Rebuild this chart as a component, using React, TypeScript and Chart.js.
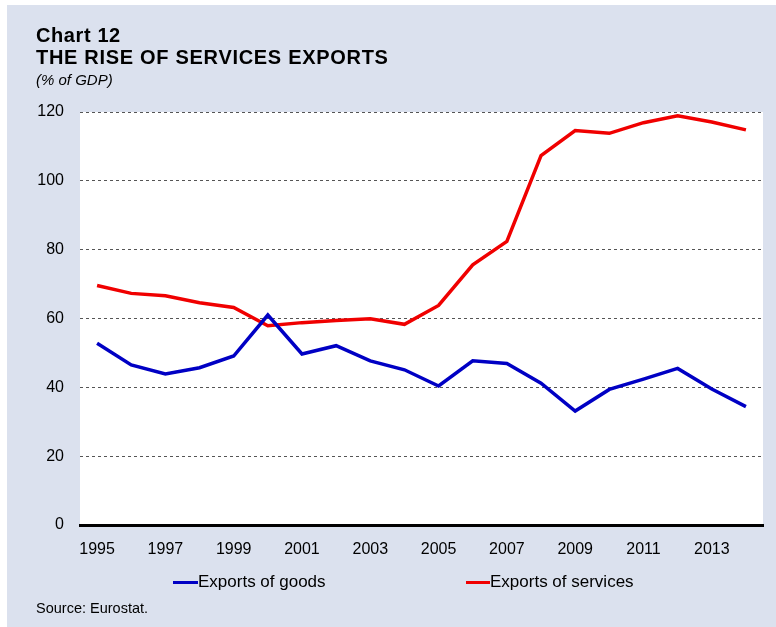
import React, { useEffect, useRef } from "react";
import { Chart, registerables } from "chart.js";

Chart.register(...registerables);

const years = [
  "1995", "1996", "1997", "1998", "1999", "2000", "2001", "2002", "2003", "2004",
  "2005", "2006", "2007", "2008", "2009", "2010", "2011", "2012", "2013", "2014",
];
const exportsOfGoods = [
  52.8, 46.5, 43.9, 45.7, 49.1, 61.0, 49.7, 52.1, 47.7, 45.1,
  40.4, 47.7, 46.9, 41.2, 33.1, 39.4, 42.4, 45.5, 39.5, 34.4,
];
const exportsOfServices = [
  69.6, 67.3, 66.6, 64.6, 63.2, 57.9, 58.8, 59.4, 59.9, 58.3,
  63.8, 75.6, 82.4, 107.3, 114.6, 113.8, 116.9, 118.9, 117.1, 114.8,
];
const yMin = 0;
const yMax = 120;
const yStep = 20;

const BLUE = "#0000c4";
const RED = "#f00000";
const BG = "#dbe1ee";
const FONT = "'Liberation Sans', Arial, sans-serif";

const plotBg = {
  id: "plotBg",
  beforeDraw(chart: any) {
    const { ctx, chartArea } = chart;
    ctx.save();
    ctx.fillStyle = "#ffffff";
    ctx.fillRect(chartArea.left, chartArea.top, chartArea.right - chartArea.left, chartArea.bottom - chartArea.top);
    ctx.restore();
  },
};

export default function App() {
  const ref = useRef<HTMLCanvasElement | null>(null);

  useEffect(() => {
    if (!ref.current) return;
    const chart = new Chart(ref.current, {
      type: "line",
      data: {
        labels: years,
        datasets: [
          {
            label: "Exports of goods",
            data: exportsOfGoods,
            borderColor: BLUE,
            backgroundColor: BLUE,
            borderWidth: 3.5,
            pointRadius: 0,
            tension: 0,
          },
          {
            label: "Exports of services",
            data: exportsOfServices,
            borderColor: RED,
            backgroundColor: RED,
            borderWidth: 3.5,
            pointRadius: 0,
            tension: 0,
          },
        ],
      },
      plugins: [plotBg],
      options: {
        animation: false,
        responsive: false,
        maintainAspectRatio: false,
        layout: { padding: { left: 0, top: 112, right: 13, bottom: 62 } },
        plugins: {
          legend: { display: false },
          tooltip: { enabled: false },
          title: { display: false },
        },
        scales: {
          x: {
            offset: true,
            grid: { display: false, drawTicks: false },
            border: { display: true, color: "#000000", width: 3 },
            ticks: {
              autoSkip: false,
              maxRotation: 0,
              padding: 15,
              color: "#000000",
              font: { family: FONT, size: 16 },
              callback: (_v: any, i: number) => (i % 2 === 0 ? years[i] : ""),
            },
            afterFit: (s: any) => {
              s.height = 40;
            },
          },
          y: {
            min: yMin,
            max: yMax,
            ticks: {
              stepSize: yStep,
              padding: 16,
              color: "#000000",
              font: { family: FONT, size: 16 },
            },
            grid: {
              drawTicks: false,
              color: (c: any) => (c.tick && c.tick.value === 0 ? "rgba(0,0,0,0)" : "#555555"),
              lineWidth: 1,
            },
            border: { display: false, dash: [3, 3] },
            afterFit: (s: any) => {
              s.width = 80;
            },
          },
        },
      },
    });
    return () => chart.destroy();
  }, []);

  return (
    <div style={{ position: "fixed", left: 0, top: 0, width: 776, height: 627, background: "#ffffff", fontFamily: FONT }}>
      <div style={{ position: "absolute", left: 7, top: 5, right: 0, bottom: 0, background: BG }} />
      <canvas ref={ref} width={776} height={627} style={{ position: "absolute", left: 0, top: 0, width: 776, height: 627 }} />
      <div style={{ position: "absolute", left: 36, top: 24, fontWeight: "bold", fontSize: 20, lineHeight: "22px", color: "#000", letterSpacing: 0.6 }}>
        Chart 12
      </div>
      <div style={{ position: "absolute", left: 36, top: 46, fontWeight: "bold", fontSize: 20, lineHeight: "22px", color: "#000", letterSpacing: 0.7, whiteSpace: "nowrap" }}>
        THE RISE OF SERVICES EXPORTS
      </div>
      <div style={{ position: "absolute", left: 36, top: 71, fontStyle: "italic", fontSize: 15, lineHeight: "18px", color: "#000" }}>
        (% of GDP)
      </div>
      <div style={{ position: "absolute", left: 173, top: 572, display: "flex", alignItems: "center", fontSize: 17, lineHeight: "20px", color: "#000", whiteSpace: "nowrap" }}>
        <span style={{ display: "inline-block", width: 25, height: 3, background: BLUE }} />
        <span>Exports of goods</span>
      </div>
      <div style={{ position: "absolute", left: 466, top: 572, display: "flex", alignItems: "center", fontSize: 17, lineHeight: "20px", color: "#000", whiteSpace: "nowrap" }}>
        <span style={{ display: "inline-block", width: 24, height: 3, background: RED }} />
        <span>Exports of services</span>
      </div>
      <div style={{ position: "absolute", left: 36, top: 600, fontSize: 14.5, lineHeight: "17px", color: "#000", whiteSpace: "nowrap" }}>
        Source: Eurostat.
      </div>
    </div>
  );
}
